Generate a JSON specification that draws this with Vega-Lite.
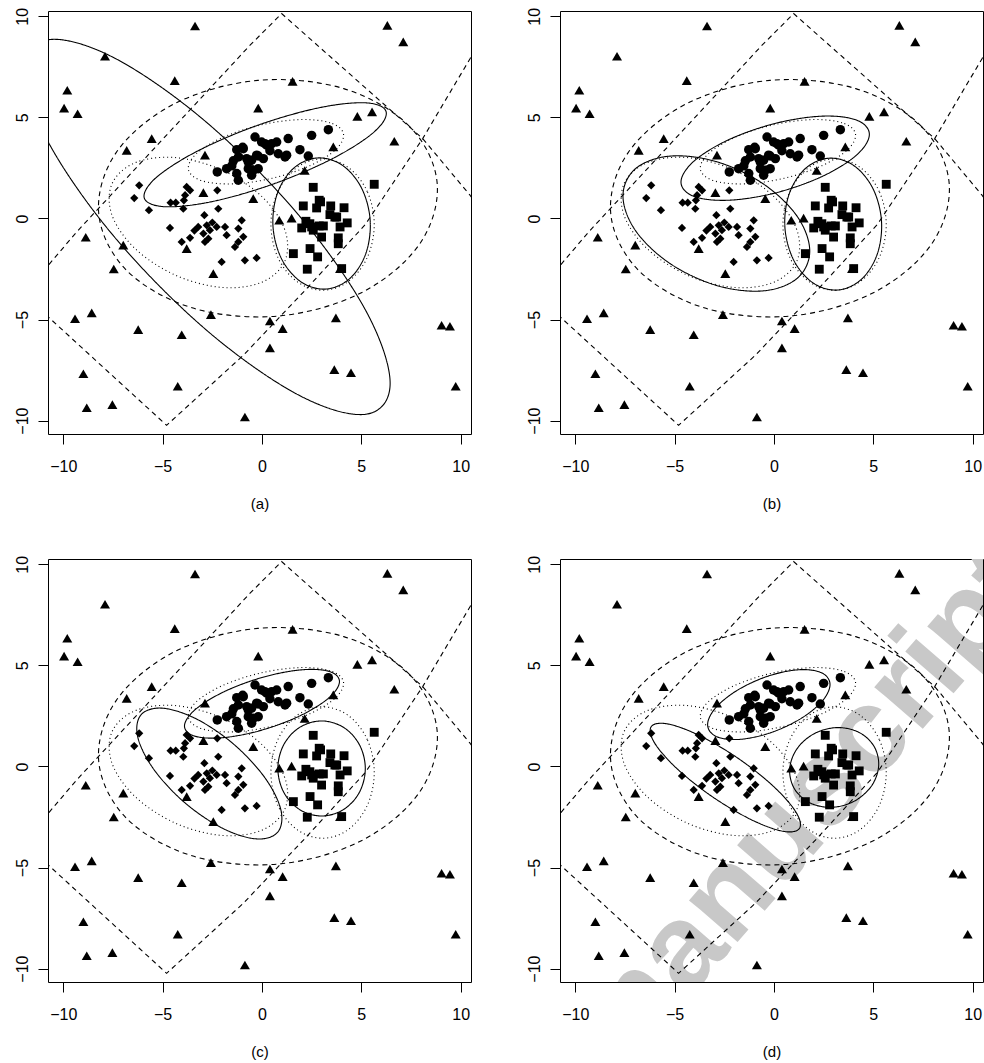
{
"$schema": "https://vega.github.io/schema/vega-lite/v6.json",
"padding": {"left": 13, "top": 6, "right": 0, "bottom": 0},
"config": {
 "font": "Liberation Sans",
 "view": {"stroke": "black", "strokeWidth": 1},
 "axis": {"domain": false, "grid": false, "tickColor": "black", "tickSize": 10, "tickWidth": 1, "labelFontSize": 16, "labelColor": "black", "titleFontSize": 15, "titleFontWeight": "normal", "titleColor": "black", "labelFont": "Liberation Sans", "titleFont": "Liberation Sans"}
},
"datasets": {
"wm": [{"x": -8.04, "y": -12.98, "t": "Accepted manuscript"}],
"pts": [
{"g":"n","x":-3.37,"y":9.52},{"g":"n","x":-7.9,"y":8.02},{"g":"n","x":-9.8,"y":6.34},{"g":"n","x":-9.96,"y":5.46},{"g":"n","x":-9.28,"y":5.18},{"g":"n","x":-4.39,"y":6.82},{"g":"n","x":-5.55,"y":3.95},{"g":"n","x":-6.81,"y":3.37},{"g":"n","x":-2.87,"y":3.13},{"g":"n","x":-2.95,"y":1.28},{"g":"n","x":6.31,"y":9.55},{"g":"n","x":7.11,"y":8.73},{"g":"n","x":1.54,"y":6.78},{"g":"n","x":-0.19,"y":5.46},{"g":"n","x":4.8,"y":5.05},{"g":"n","x":5.54,"y":5.27},{"g":"n","x":6.66,"y":3.82},{"g":"n","x":3.59,"y":3.54},{"g":"n","x":2.15,"y":2.37},{"g":"n","x":-0.44,"y":0.98},{"g":"n","x":0.87,"y":-0.09},{"g":"n","x":1.49,"y":0.02},{"g":"n","x":3.93,"y":-2.48},{"g":"n","x":-6.98,"y":-1.32},{"g":"n","x":-7.46,"y":-2.5},{"g":"n","x":-3.79,"y":-1.49},{"g":"n","x":-2.45,"y":-2.73},{"g":"n","x":-8.87,"y":-0.93},{"g":"n","x":-9.41,"y":-4.96},{"g":"n","x":-8.57,"y":-4.67},{"g":"n","x":-6.23,"y":-5.5},{"g":"n","x":-4.04,"y":-5.75},{"g":"n","x":-2.57,"y":-4.76},{"g":"n","x":-8.99,"y":-7.68},{"g":"n","x":-4.24,"y":-8.3},{"g":"n","x":-8.82,"y":-9.36},{"g":"n","x":-7.53,"y":-9.21},{"g":"n","x":-0.86,"y":-9.82},{"g":"n","x":0.4,"y":-5.07},{"g":"n","x":1.04,"y":-5.45},{"g":"n","x":0.4,"y":-6.4},{"g":"n","x":3.72,"y":-4.92},{"g":"n","x":3.64,"y":-7.48},{"g":"n","x":4.48,"y":-7.63},{"g":"n","x":9.04,"y":-5.28},{"g":"n","x":9.46,"y":-5.33},{"g":"n","x":9.75,"y":-8.3},
{"g":"c","x":-2.25,"y":2.3},{"g":"c","x":-1.78,"y":2.46},{"g":"c","x":-1.52,"y":2.6},{"g":"c","x":-1.44,"y":2.85},{"g":"c","x":-1.27,"y":3.4},{"g":"c","x":-0.97,"y":3.52},{"g":"c","x":-1.19,"y":3.04},{"g":"c","x":-1.27,"y":2.22},{"g":"c","x":-1.19,"y":1.89},{"g":"c","x":-0.69,"y":2.79},{"g":"c","x":-0.35,"y":4.03},{"g":"c","x":-0.02,"y":3.78},{"g":"c","x":0.24,"y":3.62},{"g":"c","x":0.49,"y":3.7},{"g":"c","x":0.74,"y":3.78},{"g":"c","x":1.32,"y":3.95},{"g":"c","x":2.5,"y":4.11},{"g":"c","x":3.34,"y":4.39},{"g":"c","x":1.91,"y":3.4},{"g":"c","x":2.33,"y":3.09},{"g":"c","x":0.82,"y":3.2},{"g":"c","x":1.16,"y":3.04},{"g":"c","x":-0.77,"y":2.96},{"g":"c","x":-0.52,"y":2.88},{"g":"c","x":-0.19,"y":3.09},{"g":"c","x":0.07,"y":2.96},{"g":"c","x":-0.69,"y":2.46},{"g":"c","x":-0.44,"y":2.38},{"g":"c","x":-0.19,"y":2.46},{"g":"c","x":-0.52,"y":2.14},{"g":"c","x":-0.27,"y":3.13},{"g":"c","x":0.15,"y":3.7},{"g":"c","x":1.24,"y":3.13},{"g":"c","x":-0.94,"y":3.45},{"g":"c","x":0.4,"y":3.35},
{"g":"s","x":5.65,"y":1.69},{"g":"s","x":2.58,"y":1.54},{"g":"s","x":2.08,"y":0.62},{"g":"s","x":2.88,"y":0.9},{"g":"s","x":2.95,"y":0.82},{"g":"s","x":2.75,"y":0.52},{"g":"s","x":3.46,"y":0.62},{"g":"s","x":4.13,"y":0.53},{"g":"s","x":3.42,"y":0.19},{"g":"s","x":3.67,"y":0.07},{"g":"s","x":3.76,"y":0.07},{"g":"s","x":2.21,"y":-0.14},{"g":"s","x":2.41,"y":-0.26},{"g":"s","x":2.0,"y":-0.47},{"g":"s","x":2.5,"y":-0.42},{"g":"s","x":2.58,"y":-0.58},{"g":"s","x":2.88,"y":-0.37},{"g":"s","x":3.09,"y":-0.37},{"g":"s","x":3.0,"y":-0.92},{"g":"s","x":3.93,"y":-0.42},{"g":"s","x":4.29,"y":-0.22},{"g":"s","x":3.84,"y":-0.96},{"g":"s","x":3.84,"y":-1.25},{"g":"s","x":2.42,"y":-1.49},{"g":"s","x":2.8,"y":-1.9},{"g":"s","x":1.58,"y":-1.74},{"g":"s","x":2.28,"y":-2.51},{"g":"s","x":4.01,"y":-2.48},
{"g":"d","x":-6.18,"y":1.64},{"g":"d","x":-6.43,"y":1.01},{"g":"d","x":-5.69,"y":0.41},{"g":"d","x":-4.6,"y":0.78},{"g":"d","x":-4.34,"y":0.78},{"g":"d","x":-3.96,"y":0.48},{"g":"d","x":-3.79,"y":1.56},{"g":"d","x":-3.62,"y":1.39},{"g":"d","x":-3.87,"y":1.15},{"g":"d","x":-3.93,"y":0.9},{"g":"d","x":-2.25,"y":1.39},{"g":"d","x":-2.2,"y":0.48},{"g":"d","x":-2.9,"y":0.16},{"g":"d","x":-4.63,"y":-0.47},{"g":"d","x":-3.62,"y":-0.96},{"g":"d","x":-4.04,"y":-1.16},{"g":"d","x":-3.21,"y":-0.42},{"g":"d","x":-2.78,"y":-0.34},{"g":"d","x":-2.62,"y":-0.58},{"g":"d","x":-2.95,"y":-0.75},{"g":"d","x":-2.7,"y":-1.0},{"g":"d","x":-2.87,"y":-1.16},{"g":"d","x":-2.28,"y":-0.42},{"g":"d","x":-1.86,"y":-0.42},{"g":"d","x":-1.78,"y":-0.83},{"g":"d","x":-1.02,"y":-0.09},{"g":"d","x":-1.19,"y":-0.5},{"g":"d","x":-0.94,"y":-0.91},{"g":"d","x":-1.19,"y":-1.16},{"g":"d","x":-1.36,"y":-1.41},{"g":"d","x":-0.86,"y":-2.07},{"g":"d","x":-0.27,"y":-1.95},{"g":"d","x":-2.03,"y":-2.15},{"g":"d","x":-2.5,"y":-0.2},{"g":"d","x":-3.4,"y":-0.6}
],
"diag": [
{"id":"P","i":0,"x":-12.5,"y":-4.3},{"id":"P","i":1,"x":-10.75,"y":-2.31},{"id":"P","i":2,"x":-9.33,"y":-0.67},{"id":"P","i":3,"x":-0.6,"y":8.57},{"id":"P","i":4,"x":0.99,"y":10.13},{"id":"P","i":5,"x":8.09,"y":3.95},{"id":"P","i":6,"x":10.47,"y":1.15},{"id":"P","i":7,"x":12,"y":-0.9},
{"id":"Q","i":0,"x":-12.5,"y":-3.2},{"id":"Q","i":1,"x":-10.67,"y":-4.95},{"id":"Q","i":2,"x":-4.8,"y":-10.23},{"id":"Q","i":3,"x":-0.94,"y":-6.77},{"id":"Q","i":4,"x":2.25,"y":-3.47},{"id":"Q","i":5,"x":5.2,"y":-0.3},{"id":"Q","i":6,"x":8.09,"y":3.95},{"id":"Q","i":7,"x":10.47,"y":7.9},{"id":"Q","i":8,"x":11.5,"y":9.9}
],
"ell": [
{"p":"all","id":"D1","s":"dashed","i":0,"x":8.817,"y":1.745},{"p":"all","id":"D1","s":"dashed","i":1,"x":7.421,"y":4.559},{"p":"all","id":"D1","s":"dashed","i":2,"x":4.117,"y":6.42},{"p":"all","id":"D1","s":"dashed","i":3,"x":-0.21,"y":6.828},{"p":"all","id":"D1","s":"dashed","i":4,"x":-4.401,"y":5.674},{"p":"all","id":"D1","s":"dashed","i":5,"x":-7.331,"y":3.269},{"p":"all","id":"D1","s":"dashed","i":6,"x":-8.217,"y":0.255},{"p":"all","id":"D1","s":"dashed","i":7,"x":-6.821,"y":-2.559},{"p":"all","id":"D1","s":"dashed","i":8,"x":-3.517,"y":-4.42},{"p":"all","id":"D1","s":"dashed","i":9,"x":0.81,"y":-4.828},{"p":"all","id":"D1","s":"dashed","i":10,"x":5.001,"y":-3.674},{"p":"all","id":"D1","s":"dashed","i":11,"x":7.931,"y":-1.269},
{"p":"all","id":"E1","s":"dotted","i":0,"x":4.098,"y":4.2},{"p":"all","id":"E1","s":"dotted","i":1,"x":3.424,"y":4.737},{"p":"all","id":"E1","s":"dotted","i":2,"x":1.886,"y":4.889},{"p":"all","id":"E1","s":"dotted","i":3,"x":-0.104,"y":4.615},{"p":"all","id":"E1","s":"dotted","i":4,"x":-2.012,"y":3.989},{"p":"all","id":"E1","s":"dotted","i":5,"x":-3.328,"y":3.179},{"p":"all","id":"E1","s":"dotted","i":6,"x":-3.698,"y":2.4},{"p":"all","id":"E1","s":"dotted","i":7,"x":-3.024,"y":1.863},{"p":"all","id":"E1","s":"dotted","i":8,"x":-1.486,"y":1.711},{"p":"all","id":"E1","s":"dotted","i":9,"x":0.504,"y":1.985},{"p":"all","id":"E1","s":"dotted","i":10,"x":2.412,"y":2.611},{"p":"all","id":"E1","s":"dotted","i":11,"x":3.728,"y":3.421},
{"p":"all","id":"E2","s":"dotted","i":0,"x":5.65,"y":-0.3},{"p":"all","id":"E2","s":"dotted","i":1,"x":5.302,"y":1.325},{"p":"all","id":"E2","s":"dotted","i":2,"x":4.35,"y":2.515},{"p":"all","id":"E2","s":"dotted","i":3,"x":3.05,"y":2.95},{"p":"all","id":"E2","s":"dotted","i":4,"x":1.75,"y":2.515},{"p":"all","id":"E2","s":"dotted","i":5,"x":0.798,"y":1.325},{"p":"all","id":"E2","s":"dotted","i":6,"x":0.45,"y":-0.3},{"p":"all","id":"E2","s":"dotted","i":7,"x":0.798,"y":-1.925},{"p":"all","id":"E2","s":"dotted","i":8,"x":1.75,"y":-3.115},{"p":"all","id":"E2","s":"dotted","i":9,"x":3.05,"y":-3.55},{"p":"all","id":"E2","s":"dotted","i":10,"x":4.35,"y":-3.115},{"p":"all","id":"E2","s":"dotted","i":11,"x":5.302,"y":-1.925},
{"p":"all","id":"E3","s":"dotted","i":0,"x":1.153,"y":-2.101},{"p":"all","id":"E3","s":"dotted","i":1,"x":1.141,"y":-0.54},{"p":"all","id":"E3","s":"dotted","i":2,"x":-0.035,"y":1.111},{"p":"all","id":"E3","s":"dotted","i":3,"x":-2.059,"y":2.412},{"p":"all","id":"E3","s":"dotted","i":4,"x":-4.389,"y":3.013},{"p":"all","id":"E3","s":"dotted","i":5,"x":-6.399,"y":2.752},{"p":"all","id":"E3","s":"dotted","i":6,"x":-7.553,"y":1.701},{"p":"all","id":"E3","s":"dotted","i":7,"x":-7.541,"y":0.14},{"p":"all","id":"E3","s":"dotted","i":8,"x":-6.365,"y":-1.511},{"p":"all","id":"E3","s":"dotted","i":9,"x":-4.341,"y":-2.812},{"p":"all","id":"E3","s":"dotted","i":10,"x":-2.011,"y":-3.413},{"p":"all","id":"E3","s":"dotted","i":11,"x":-0.001,"y":-3.152},
{"p":"a","id":"A1","s":"solid","i":0,"x":6.45,"y":-8.15},{"p":"a","id":"A1","s":"solid","i":1,"x":5.217,"y":-4.544},{"p":"a","id":"A1","s":"solid","i":2,"x":1.85,"y":0.166},{"p":"a","id":"A1","s":"solid","i":3,"x":-2.75,"y":4.72},{"p":"a","id":"A1","s":"solid","i":4,"x":-7.35,"y":7.896},{"p":"a","id":"A1","s":"solid","i":5,"x":-10.717,"y":8.844},{"p":"a","id":"A1","s":"solid","i":6,"x":-11.95,"y":7.31},{"p":"a","id":"A1","s":"solid","i":7,"x":-10.717,"y":3.704},{"p":"a","id":"A1","s":"solid","i":8,"x":-7.35,"y":-1.006},{"p":"a","id":"A1","s":"solid","i":9,"x":-2.75,"y":-5.56},{"p":"a","id":"A1","s":"solid","i":10,"x":1.85,"y":-8.736},{"p":"a","id":"A1","s":"solid","i":11,"x":5.217,"y":-9.684},
{"p":"a","id":"A2","s":"solid","i":0,"x":6.24,"y":5.303},{"p":"a","id":"A2","s":"solid","i":1,"x":5.174,"y":5.721},{"p":"a","id":"A2","s":"solid","i":2,"x":2.766,"y":5.452},{"p":"a","id":"A2","s":"solid","i":3,"x":-0.341,"y":4.564},{"p":"a","id":"A2","s":"solid","i":4,"x":-3.314,"y":3.298},{"p":"a","id":"A2","s":"solid","i":5,"x":-5.356,"y":1.993},{"p":"a","id":"A2","s":"solid","i":6,"x":-5.92,"y":0.997},{"p":"a","id":"A2","s":"solid","i":7,"x":-4.854,"y":0.579},{"p":"a","id":"A2","s":"solid","i":8,"x":-2.446,"y":0.848},{"p":"a","id":"A2","s":"solid","i":9,"x":0.661,"y":1.736},{"p":"a","id":"A2","s":"solid","i":10,"x":3.634,"y":3.002},{"p":"a","id":"A2","s":"solid","i":11,"x":5.676,"y":4.307},
{"p":"a","id":"A3","s":"solid","i":0,"x":5.444,"y":-0.079},{"p":"a","id":"A3","s":"solid","i":1,"x":5.003,"y":1.519},{"p":"a","id":"A3","s":"solid","i":2,"x":4.025,"y":2.644},{"p":"a","id":"A3","s":"solid","i":3,"x":2.773,"y":2.992},{"p":"a","id":"A3","s":"solid","i":4,"x":1.581,"y":2.472},{"p":"a","id":"A3","s":"solid","i":5,"x":0.769,"y":1.223},{"p":"a","id":"A3","s":"solid","i":6,"x":0.556,"y":-0.421},{"p":"a","id":"A3","s":"solid","i":7,"x":0.997,"y":-2.019},{"p":"a","id":"A3","s":"solid","i":8,"x":1.975,"y":-3.144},{"p":"a","id":"A3","s":"solid","i":9,"x":3.227,"y":-3.492},{"p":"a","id":"A3","s":"solid","i":10,"x":4.419,"y":-2.972},{"p":"a","id":"A3","s":"solid","i":11,"x":5.231,"y":-1.723},
{"p":"b","id":"B1","s":"solid","i":0,"x":4.8,"y":4.16},{"p":"b","id":"B1","s":"solid","i":1,"x":4.165,"y":4.862},{"p":"b","id":"B1","s":"solid","i":2,"x":2.43,"y":5.06},{"p":"b","id":"B1","s":"solid","i":3,"x":0.06,"y":4.7},{"p":"b","id":"B1","s":"solid","i":4,"x":-2.31,"y":3.88},{"p":"b","id":"B1","s":"solid","i":5,"x":-4.045,"y":2.818},{"p":"b","id":"B1","s":"solid","i":6,"x":-4.68,"y":1.8},{"p":"b","id":"B1","s":"solid","i":7,"x":-4.045,"y":1.098},{"p":"b","id":"B1","s":"solid","i":8,"x":-2.31,"y":0.9},{"p":"b","id":"B1","s":"solid","i":9,"x":0.06,"y":1.26},{"p":"b","id":"B1","s":"solid","i":10,"x":2.43,"y":2.08},{"p":"b","id":"B1","s":"solid","i":11,"x":4.165,"y":3.142},
{"p":"b","id":"B2","s":"solid","i":0,"x":1.8,"y":-1.613},{"p":"b","id":"B2","s":"solid","i":1,"x":1.17,"y":0.1},{"p":"b","id":"B2","s":"solid","i":2,"x":-0.55,"y":1.718},{"p":"b","id":"B2","s":"solid","i":3,"x":-2.9,"y":2.81},{"p":"b","id":"B2","s":"solid","i":4,"x":-5.25,"y":3.082},{"p":"b","id":"B2","s":"solid","i":5,"x":-6.97,"y":2.46},{"p":"b","id":"B2","s":"solid","i":6,"x":-7.6,"y":1.113},{"p":"b","id":"B2","s":"solid","i":7,"x":-6.97,"y":-0.6},{"p":"b","id":"B2","s":"solid","i":8,"x":-5.25,"y":-2.218},{"p":"b","id":"B2","s":"solid","i":9,"x":-2.9,"y":-3.31},{"p":"b","id":"B2","s":"solid","i":10,"x":-0.55,"y":-3.582},{"p":"b","id":"B2","s":"solid","i":11,"x":1.17,"y":-2.96},
{"p":"b","id":"B3","s":"solid","i":0,"x":5.41,"y":-0.11},{"p":"b","id":"B3","s":"solid","i":1,"x":4.97,"y":1.497},{"p":"b","id":"B3","s":"solid","i":2,"x":3.998,"y":2.628},{"p":"b","id":"B3","s":"solid","i":3,"x":2.753,"y":2.98},{"p":"b","id":"B3","s":"solid","i":4,"x":1.568,"y":2.458},{"p":"b","id":"B3","s":"solid","i":5,"x":0.762,"y":1.203},{"p":"b","id":"B3","s":"solid","i":6,"x":0.55,"y":-0.45},{"p":"b","id":"B3","s":"solid","i":7,"x":0.99,"y":-2.057},{"p":"b","id":"B3","s":"solid","i":8,"x":1.962,"y":-3.188},{"p":"b","id":"B3","s":"solid","i":9,"x":3.207,"y":-3.54},{"p":"b","id":"B3","s":"solid","i":10,"x":4.392,"y":-3.018},{"p":"b","id":"B3","s":"solid","i":11,"x":5.198,"y":-1.763},
{"p":"c","id":"C1","s":"solid","i":0,"x":3.9,"y":4.2},{"p":"c","id":"C1","s":"solid","i":1,"x":3.377,"y":4.703},{"p":"c","id":"C1","s":"solid","i":2,"x":1.95,"y":4.776},{"p":"c","id":"C1","s":"solid","i":3,"x":0,"y":4.4},{"p":"c","id":"C1","s":"solid","i":4,"x":-1.95,"y":3.676},{"p":"c","id":"C1","s":"solid","i":5,"x":-3.377,"y":2.797},{"p":"c","id":"C1","s":"solid","i":6,"x":-3.9,"y":2.0},{"p":"c","id":"C1","s":"solid","i":7,"x":-3.377,"y":1.497},{"p":"c","id":"C1","s":"solid","i":8,"x":-1.95,"y":1.424},{"p":"c","id":"C1","s":"solid","i":9,"x":0,"y":1.8},{"p":"c","id":"C1","s":"solid","i":10,"x":1.95,"y":2.524},{"p":"c","id":"C1","s":"solid","i":11,"x":3.377,"y":3.403},
{"p":"c","id":"C2","s":"solid","i":0,"x":0.797,"y":-3.243},{"p":"c","id":"C2","s":"solid","i":1,"x":0.946,"y":-2.127},{"p":"c","id":"C2","s":"solid","i":2,"x":0.131,"y":-0.537},{"p":"c","id":"C2","s":"solid","i":3,"x":-1.429,"y":1.105},{"p":"c","id":"C2","s":"solid","i":4,"x":-3.317,"y":2.357},{"p":"c","id":"C2","s":"solid","i":5,"x":-5.024,"y":2.883},{"p":"c","id":"C2","s":"solid","i":6,"x":-6.097,"y":2.543},{"p":"c","id":"C2","s":"solid","i":7,"x":-6.246,"y":1.427},{"p":"c","id":"C2","s":"solid","i":8,"x":-5.431,"y":-0.163},{"p":"c","id":"C2","s":"solid","i":9,"x":-3.871,"y":-1.805},{"p":"c","id":"C2","s":"solid","i":10,"x":-1.983,"y":-3.057},{"p":"c","id":"C2","s":"solid","i":11,"x":-0.276,"y":-3.583},
{"p":"c","id":"C3","s":"solid","i":0,"x":5.2,"y":-0.1},{"p":"c","id":"C3","s":"solid","i":1,"x":4.905,"y":1.075},{"p":"c","id":"C3","s":"solid","i":2,"x":4.1,"y":1.935},{"p":"c","id":"C3","s":"solid","i":3,"x":3.0,"y":2.25},{"p":"c","id":"C3","s":"solid","i":4,"x":1.9,"y":1.935},{"p":"c","id":"C3","s":"solid","i":5,"x":1.095,"y":1.075},{"p":"c","id":"C3","s":"solid","i":6,"x":0.8,"y":-0.1},{"p":"c","id":"C3","s":"solid","i":7,"x":1.095,"y":-1.275},{"p":"c","id":"C3","s":"solid","i":8,"x":1.9,"y":-2.135},{"p":"c","id":"C3","s":"solid","i":9,"x":3.0,"y":-2.45},{"p":"c","id":"C3","s":"solid","i":10,"x":4.1,"y":-2.135},{"p":"c","id":"C3","s":"solid","i":11,"x":4.905,"y":-1.275},
{"p":"d","id":"D1s","s":"solid","i":0,"x":2.82,"y":4.05},{"p":"d","id":"D1s","s":"solid","i":1,"x":2.407,"y":4.627},{"p":"d","id":"D1s","s":"solid","i":2,"x":1.28,"y":4.785},{"p":"d","id":"D1s","s":"solid","i":3,"x":-0.26,"y":4.48},{"p":"d","id":"D1s","s":"solid","i":4,"x":-1.8,"y":3.795},{"p":"d","id":"D1s","s":"solid","i":5,"x":-2.927,"y":2.913},{"p":"d","id":"D1s","s":"solid","i":6,"x":-3.34,"y":2.07},{"p":"d","id":"D1s","s":"solid","i":7,"x":-2.927,"y":1.493},{"p":"d","id":"D1s","s":"solid","i":8,"x":-1.8,"y":1.335},{"p":"d","id":"D1s","s":"solid","i":9,"x":-0.26,"y":1.64},{"p":"d","id":"D1s","s":"solid","i":10,"x":1.28,"y":2.325},{"p":"d","id":"D1s","s":"solid","i":11,"x":2.407,"y":3.207},
{"p":"d","id":"D2s","s":"solid","i":0,"x":1.281,"y":-3.066},{"p":"d","id":"D2s","s":"solid","i":1,"x":1.103,"y":-2.252},{"p":"d","id":"D2s","s":"solid","i":2,"x":-0.027,"y":-0.983},{"p":"d","id":"D2s","s":"solid","i":3,"x":-1.807,"y":0.403},{"p":"d","id":"D2s","s":"solid","i":4,"x":-3.759,"y":1.533},{"p":"d","id":"D2s","s":"solid","i":5,"x":-5.359,"y":2.106},{"p":"d","id":"D2s","s":"solid","i":6,"x":-6.181,"y":1.966},{"p":"d","id":"D2s","s":"solid","i":7,"x":-6.003,"y":1.152},{"p":"d","id":"D2s","s":"solid","i":8,"x":-4.873,"y":-0.117},{"p":"d","id":"D2s","s":"solid","i":9,"x":-3.093,"y":-1.503},{"p":"d","id":"D2s","s":"solid","i":10,"x":-1.141,"y":-2.633},{"p":"d","id":"D2s","s":"solid","i":11,"x":0.459,"y":-3.206},
{"p":"d","id":"D3s","s":"solid","i":0,"x":5.27,"y":0.05},{"p":"d","id":"D3s","s":"solid","i":1,"x":5.02,"y":1.022},{"p":"d","id":"D3s","s":"solid","i":2,"x":4.237,"y":1.706},{"p":"d","id":"D3s","s":"solid","i":3,"x":3.13,"y":1.92},{"p":"d","id":"D3s","s":"solid","i":4,"x":1.997,"y":1.606},{"p":"d","id":"D3s","s":"solid","i":5,"x":1.14,"y":0.848},{"p":"d","id":"D3s","s":"solid","i":6,"x":0.79,"y":-0.15},{"p":"d","id":"D3s","s":"solid","i":7,"x":1.04,"y":-1.122},{"p":"d","id":"D3s","s":"solid","i":8,"x":1.823,"y":-1.806},{"p":"d","id":"D3s","s":"solid","i":9,"x":2.93,"y":-2.02},{"p":"d","id":"D3s","s":"solid","i":10,"x":4.063,"y":-1.706},{"p":"d","id":"D3s","s":"solid","i":11,"x":4.92,"y":-0.948}
]
},
"columns": 2,
"spacing": {"row": 42, "column": 53},
"concat": [
{"width": 423, "height": 423,
 "encoding": {
  "x": {"field": "x", "type": "quantitative", "scale": {"domain": [-10.77, 10.52], "nice": false, "zero": false}, "axis": {"values": [-10,-5,0,5,10], "title": "(a)", "labelPadding": 14, "titlePadding": 22}},
  "y": {"field": "y", "type": "quantitative", "scale": {"domain": [-10.66, 10.26], "nice": false, "zero": false}, "axis": {"values": [-10,-5,0,5,10], "title": null, "labelAngle": -90, "labelAlign": "center", "labelBaseline": "bottom", "labelPadding": 8}}
 },
 "layer": [
  {"data": {"name": "ell"}, "transform": [{"filter": "datum.p == 'a' || datum.p == 'all'"}], "mark": {"type": "line", "interpolate": "cardinal-closed", "clip": true, "color": "black", "strokeWidth": 1.1},
   "encoding": {"detail": {"field": "id"}, "order": {"field": "i", "type": "quantitative"}, "strokeDash": {"field": "s", "type": "nominal", "scale": {"domain": ["solid","dotted","dashed"], "range": [[1,0],[1,3],[5,4]]}, "legend": null}}},
  {"data": {"name": "diag"}, "mark": {"type": "line", "clip": true, "color": "black", "strokeWidth": 1.1, "strokeDash": [5,4]},
   "encoding": {"detail": {"field": "id"}, "order": {"field": "i", "type": "quantitative"}}},
  {"data": {"name": "pts"}, "mark": {"type": "point", "filled": true, "color": "black", "opacity": 1},
   "encoding": {"shape": {"field": "g", "type": "nominal", "scale": {"domain": ["n","c","s","d"], "range": ["triangle-up","circle","square","diamond"]}, "legend": null}, "size": {"field": "g", "type": "nominal", "scale": {"domain": ["n","c","s","d"], "range": [100,68,50,95]}, "legend": null}}}
 ]},
{"width": 423, "height": 423,
 "encoding": {
  "x": {"field": "x", "type": "quantitative", "scale": {"domain": [-10.77, 10.52], "nice": false, "zero": false}, "axis": {"values": [-10,-5,0,5,10], "title": "(b)", "labelPadding": 14, "titlePadding": 22}},
  "y": {"field": "y", "type": "quantitative", "scale": {"domain": [-10.66, 10.26], "nice": false, "zero": false}, "axis": {"values": [-10,-5,0,5,10], "title": null, "labelAngle": -90, "labelAlign": "center", "labelBaseline": "bottom", "labelPadding": 8}}
 },
 "layer": [
  {"data": {"name": "ell"}, "transform": [{"filter": "datum.p == 'b' || datum.p == 'all'"}], "mark": {"type": "line", "interpolate": "cardinal-closed", "clip": true, "color": "black", "strokeWidth": 1.1},
   "encoding": {"detail": {"field": "id"}, "order": {"field": "i", "type": "quantitative"}, "strokeDash": {"field": "s", "type": "nominal", "scale": {"domain": ["solid","dotted","dashed"], "range": [[1,0],[1,3],[5,4]]}, "legend": null}}},
  {"data": {"name": "diag"}, "mark": {"type": "line", "clip": true, "color": "black", "strokeWidth": 1.1, "strokeDash": [5,4]},
   "encoding": {"detail": {"field": "id"}, "order": {"field": "i", "type": "quantitative"}}},
  {"data": {"name": "pts"}, "mark": {"type": "point", "filled": true, "color": "black", "opacity": 1},
   "encoding": {"shape": {"field": "g", "type": "nominal", "scale": {"domain": ["n","c","s","d"], "range": ["triangle-up","circle","square","diamond"]}, "legend": null}, "size": {"field": "g", "type": "nominal", "scale": {"domain": ["n","c","s","d"], "range": [100,68,50,95]}, "legend": null}}}
 ]},
{"width": 423, "height": 423,
 "encoding": {
  "x": {"field": "x", "type": "quantitative", "scale": {"domain": [-10.77, 10.52], "nice": false, "zero": false}, "axis": {"values": [-10,-5,0,5,10], "title": "(c)", "labelPadding": 14, "titlePadding": 22}},
  "y": {"field": "y", "type": "quantitative", "scale": {"domain": [-10.66, 10.26], "nice": false, "zero": false}, "axis": {"values": [-10,-5,0,5,10], "title": null, "labelAngle": -90, "labelAlign": "center", "labelBaseline": "bottom", "labelPadding": 8}}
 },
 "layer": [
  {"data": {"name": "ell"}, "transform": [{"filter": "datum.p == 'c' || datum.p == 'all'"}], "mark": {"type": "line", "interpolate": "cardinal-closed", "clip": true, "color": "black", "strokeWidth": 1.1},
   "encoding": {"detail": {"field": "id"}, "order": {"field": "i", "type": "quantitative"}, "strokeDash": {"field": "s", "type": "nominal", "scale": {"domain": ["solid","dotted","dashed"], "range": [[1,0],[1,3],[5,4]]}, "legend": null}}},
  {"data": {"name": "diag"}, "mark": {"type": "line", "clip": true, "color": "black", "strokeWidth": 1.1, "strokeDash": [5,4]},
   "encoding": {"detail": {"field": "id"}, "order": {"field": "i", "type": "quantitative"}}},
  {"data": {"name": "pts"}, "mark": {"type": "point", "filled": true, "color": "black", "opacity": 1},
   "encoding": {"shape": {"field": "g", "type": "nominal", "scale": {"domain": ["n","c","s","d"], "range": ["triangle-up","circle","square","diamond"]}, "legend": null}, "size": {"field": "g", "type": "nominal", "scale": {"domain": ["n","c","s","d"], "range": [100,68,50,95]}, "legend": null}}}
 ]},
{"width": 423, "height": 423,
 "encoding": {
  "x": {"field": "x", "type": "quantitative", "scale": {"domain": [-10.77, 10.52], "nice": false, "zero": false}, "axis": {"values": [-10,-5,0,5,10], "title": "(d)", "labelPadding": 14, "titlePadding": 22}},
  "y": {"field": "y", "type": "quantitative", "scale": {"domain": [-10.66, 10.26], "nice": false, "zero": false}, "axis": {"values": [-10,-5,0,5,10], "title": null, "labelAngle": -90, "labelAlign": "center", "labelBaseline": "bottom", "labelPadding": 8}}
 },
 "layer": [
  {"data": {"name": "wm"}, "mark": {"type": "text", "clip": true, "angle": -49, "fontSize": 121, "fontWeight": "bold", "font": "Liberation Sans", "color": "#c8c8c8", "align": "center", "baseline": "middle"},
   "encoding": {"text": {"field": "t"}}},
  {"data": {"name": "ell"}, "transform": [{"filter": "datum.p == 'd' || datum.p == 'all'"}], "mark": {"type": "line", "interpolate": "cardinal-closed", "clip": true, "color": "black", "strokeWidth": 1.1},
   "encoding": {"detail": {"field": "id"}, "order": {"field": "i", "type": "quantitative"}, "strokeDash": {"field": "s", "type": "nominal", "scale": {"domain": ["solid","dotted","dashed"], "range": [[1,0],[1,3],[5,4]]}, "legend": null}}},
  {"data": {"name": "diag"}, "mark": {"type": "line", "clip": true, "color": "black", "strokeWidth": 1.1, "strokeDash": [5,4]},
   "encoding": {"detail": {"field": "id"}, "order": {"field": "i", "type": "quantitative"}}},
  {"data": {"name": "pts"}, "mark": {"type": "point", "filled": true, "color": "black", "opacity": 1},
   "encoding": {"shape": {"field": "g", "type": "nominal", "scale": {"domain": ["n","c","s","d"], "range": ["triangle-up","circle","square","diamond"]}, "legend": null}, "size": {"field": "g", "type": "nominal", "scale": {"domain": ["n","c","s","d"], "range": [100,68,50,95]}, "legend": null}}}
 ]}
]
}
